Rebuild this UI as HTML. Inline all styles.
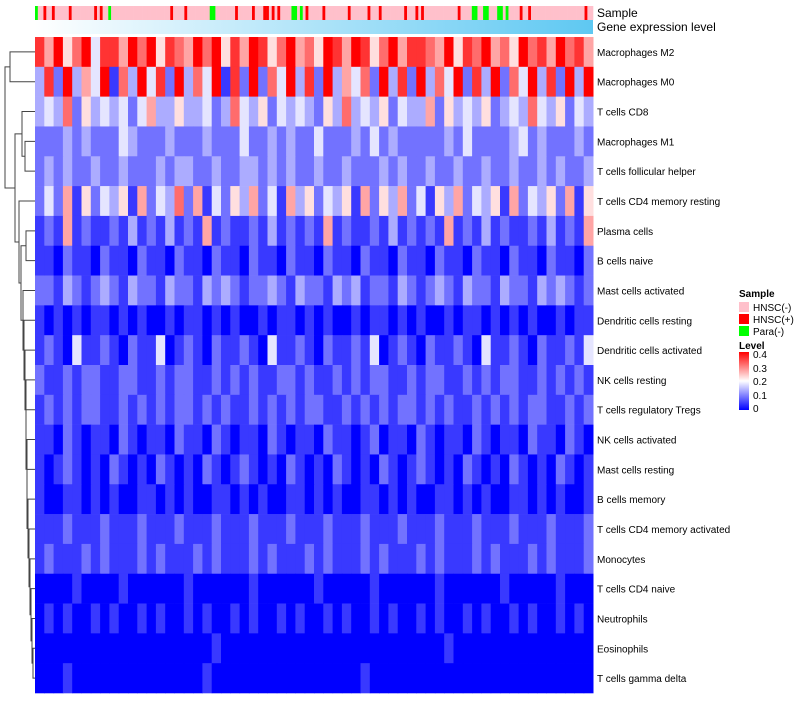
<!DOCTYPE html>
<html><head><meta charset="utf-8"><style>
body{margin:0;background:#fff;font-family:"Liberation Sans",sans-serif;}
svg text{font-family:"Liberation Sans",sans-serif;}
</style></head><body>
<svg id="chart" width="800" height="700" xmlns="http://www.w3.org/2000/svg">
<defs>
<linearGradient id="gexp" x1="0" x2="1" y1="0" y2="0"><stop offset="0" stop-color="#ffffff"/><stop offset="1" stop-color="#5ec8f2"/></linearGradient>
<linearGradient id="lvl" x1="0" x2="0" y1="1" y2="0"><stop offset="0" stop-color="#0000ff"/><stop offset="0.5" stop-color="#ffffff"/><stop offset="1" stop-color="#ff0000"/></linearGradient>
</defs>
<g id="annot"></g><g id="cells"></g><g id="dendro" stroke="#444" fill="none" stroke-width="1"></g><g id="labels"></g>
<text x="597" y="17" font-size="12">Sample</text>
<text x="597" y="31" font-size="12">Gene expression level</text>
<g font-size="10">
<text x="739" y="297" font-weight="bold">Sample</text>
<rect x="739" y="302" width="10" height="10" fill="#ffc0cb"/><text x="753" y="311">HNSC(-)</text>
<rect x="739" y="314" width="10" height="10" fill="#ff0000"/><text x="753" y="323">HNSC(+)</text>
<rect x="739" y="326" width="10" height="10" fill="#00ff00"/><text x="753" y="335">Para(-)</text>
<text x="739" y="349" font-weight="bold">Level</text>
<rect x="739" y="352" width="10" height="58" fill="url(#lvl)"/>
<text x="753" y="358">0.4</text>
<text x="753" y="372">0.3</text>
<text x="753" y="385">0.2</text>
<text x="753" y="399">0.1</text>
<text x="753" y="412">0</text>
</g>
</svg>
<script>
const rowNames=["Macrophages M2","Macrophages M0","T cells CD8","Macrophages M1","T cells follicular helper","T cells CD4 memory resting","Plasma cells","B cells naive","Mast cells activated","Dendritic cells resting","Dendritic cells activated","NK cells resting","T cells regulatory  Tregs","NK cells activated","Mast cells resting","B cells memory","T cells CD4 memory activated","Monocytes","T cells CD4 naive","Neutrophils","Eosinophils","T cells gamma delta"];
const rowValues=[
"869579488697958769795869857967598698579688769587967597869786",
"382936491739482937491829274938293647293829374928392749382939",
"343725343424633533423743524343253734352433625343523437435243",
"222323222432223222322242232322422232423222223242222342322232",
"232322322322232332232233232322322322232322322322322322323223",
"242615243516243726142536241635243516253624153624351624352615",
"121612112131213121612112131212161211213121216121312112131216",
"110211021102110211021102110211021102110211021102110211021102",
"221321232132213221323212232132213231221321232132213221323212",
"101010110101001011010100101101010010110101001011010101001011",
"121041121021140121021121041121021121401210211210411210211214",
"211212211221121221121212112212112121221121221121212211212121",
"121212211212121221212112121212211212121221212112121212211212",
"110210110210110211021011021011021101201102101102101102110210",
"101210102101021010210121010210102101021012101021010210102101",
"100110101001101010011010100110101001101010011010100110101001",
"111211121112111211121112111211121112111211121112111211121112",
"121112121112121112121112121112121112121112121112121112121112",
"000010000100000010000001000000100000100000010000001000001000",
"010100101001010010100101001010010100101001010010100101001010",
"000000000000000000010000000000000000000000001000000000000000",
"000100000000000000100000000000000001000000000000000000000000"];
const sampleCodes="200100100000100000000101002000000000000000000000100001000000002200000001000001000110101000022020100000100000000100000010001000000001000101000000000000100002200220002202000010010000000000000000000100";
const levelMax=0.4, digitStep=0.045;
const X0=35,X1=593,Y0=37,Y1=693;
const rowH=(Y1-Y0)/rowNames.length;
function xScale(i,n){return X0+(X1-X0)*i/n;}
function yScale(r){return Y0+r*rowH;}
function color(v){const t=Math.max(0,Math.min(1,v/levelMax));let r,g,b;
 if(t<0.5){const u=t/0.5;r=255*u;g=255*u;b=255;}else{const u=(t-0.5)/0.5;r=255;g=255*(1-u);b=255*(1-u);}
 return `rgb(${r|0},${g|0},${b|0})`;}
const ns="http://www.w3.org/2000/svg";
const cells=document.getElementById('cells');
rowValues.forEach((s,r)=>{const n=s.length;for(let i=0;i<n;i++){const el=document.createElementNS(ns,'rect');
 el.setAttribute('x',xScale(i,n));el.setAttribute('y',yScale(r));el.setAttribute('width',(X1-X0)/n+0.5);el.setAttribute('height',rowH+0.3);
 el.setAttribute('fill',color(+s[i]*digitStep));
 
 
 cells.appendChild(el);}});
const annot=document.getElementById('annot');
const sCol=["#ffc0cb","#ff0000","#00ff00"];
{const n=sampleCodes.length;for(let i=0;i<n;i++){const el=document.createElementNS(ns,'rect');
 el.setAttribute('x',xScale(i,n));el.setAttribute('y',6);el.setAttribute('width',(X1-X0)/n+0.3);el.setAttribute('height',14);
 el.setAttribute('fill',sCol[+sampleCodes[i]]);
 
 
 annot.appendChild(el);}}
{const el=document.createElementNS(ns,'rect');el.setAttribute('x',X0);el.setAttribute('y',20);el.setAttribute('width',X1-X0);el.setAttribute('height',14);el.setAttribute('fill','url(#gexp)');
 
 
 annot.appendChild(el);}
const labels=document.getElementById('labels');
rowNames.forEach((nm,r)=>{const t=document.createElementNS(ns,'text');t.setAttribute('x',597);t.setAttribute('y',yScale(r)+rowH/2+4);t.setAttribute('font-size','10');t.textContent=nm;
 
 
 labels.appendChild(t);});
const dg=document.getElementById('dendro');
const cy=r=>yScale(r)+rowH/2;
function leaf(r){return {y:cy(r),x:X0};}
function join(a,b,x){const p=document.createElementNS(ns,'path');p.setAttribute('d',`M${a.x},${a.y}H${x}V${b.y}H${b.x}`);dg.appendChild(p);return {x:x,y:(a.y+b.y)/2};}
const A=join(leaf(0),leaf(1),10);
const B=join(join(leaf(3),leaf(4),25),leaf(2),22);
let L=join(leaf(20),leaf(21),33);
L=join(leaf(19),L,32);L=join(leaf(18),L,31);L=join(leaf(17),L,30);L=join(leaf(16),L,29);
L=join(leaf(15),L,28);L=join(leaf(14),L,27);L=join(leaf(13),L,27);L=join(leaf(12),L,26);
L=join(leaf(11),L,26);L=join(leaf(10),L,25);L=join(leaf(9),L,24);L=join(leaf(8),L,23);
const P=join(leaf(6),leaf(7),26);L=join(P,L,21);L=join(leaf(5),L,19);
const C=join(B,L,15);join(A,C,5);
</script>
</body></html>
